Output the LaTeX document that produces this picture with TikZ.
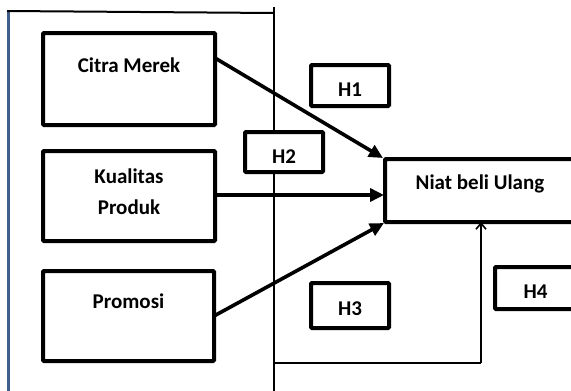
\documentclass[tikz,border=0pt]{standalone}
\usepackage{fontspec}
\setmainfont{Carlito}
\usetikzlibrary{arrows.meta,calc}
\tikzset{
  boxnode/.style={draw=black,line width=4pt,fill=white,rectangle,inner sep=0pt,outer sep=0pt,rounded corners=1pt},
  txt/.style={font=\bfseries\fontsize{21}{31}\selectfont,inner sep=0pt,align=center},
  framel/.style={line width=2pt,draw=black},
  thickarrow/.style={line width=3.6pt,-{Triangle[length=14pt,width=13pt]}},
  thinarrow/.style={line width=1.6pt,-{Straight Barb[length=6pt,width=10pt,line width=1.6pt]}}
}
\begin{document}
\begin{tikzpicture}[x=1pt,y=-1pt]
\useasboundingbox (0,0) rectangle (571,391);
\clip (0,0) rectangle (571,391);
\fill[white] (0,0) rectangle (571,391);
% boxes
\node[boxnode,minimum width=172,minimum height=92,label={[txt,yshift=14]center:Citra Merek}] (cm) at (129,79) {};
\node[boxnode,minimum width=172,minimum height=90,label={[txt,yshift=4]center:Kualitas\\Produk}] (kp) at (129,196) {};
\node[boxnode,minimum width=171,minimum height=90,label={[txt,yshift=15]center:Promosi}] (pr) at (128.5,316) {};
\node[boxnode,minimum width=190,minimum height=63,label={[txt,yshift=7]center:Niat beli Ulang}] (nb) at (480,190.5) {};
\node[boxnode,minimum width=78,minimum height=41,label={[txt,yshift=-4]center:H1}] (h1) at (350,85.5) {};
\node[boxnode,minimum width=78,minimum height=40,label={[txt,yshift=-5]center:H2}] (h2) at (284,152) {};
\node[boxnode,minimum width=78,minimum height=45,label={[txt,yshift=-3]center:H3}] (h3) at (350,305.5) {};
\node[boxnode,minimum width=81,minimum height=42,label={[txt,yshift=-4]center:H4}] (h4) at (535.5,288) {};
% frame
\coordinate (ftl) at (8,11);
\coordinate (fbl) at (8,395);
\coordinate (ftr) at (274,13);
\coordinate (vtop) at (274,7);
\coordinate (vbot) at (274,395);
\draw[line width=3pt,draw={rgb,255:red,63;green,95;blue,138}] (ftl) -- (fbl);
\draw[framel] (7,11) -- (ftr);
\draw[framel] (vtop) -- (h2.north -| vtop);
\draw[framel] (h2.south -| vtop) -- (vbot);
% arrows
\draw[thickarrow] ($(cm.north east)+(0,25)$) -- ($(nb.north west)+(-2,-1)$);
\draw[thickarrow] ($(kp.east)+(0,-1)$) -- ($(nb.west)+(-1,4.5)$);
\draw[thickarrow] (pr.east) -- ($(nb.south west)+(-1,1)$);
% bottom feedback
\coordinate (bl) at (274,363);
\coordinate (br) at (481,363);
\draw[line width=1.6pt] (bl) -- (br);
\draw[thinarrow] (br) -- (br |- nb.south);
\end{tikzpicture}
\end{document}
